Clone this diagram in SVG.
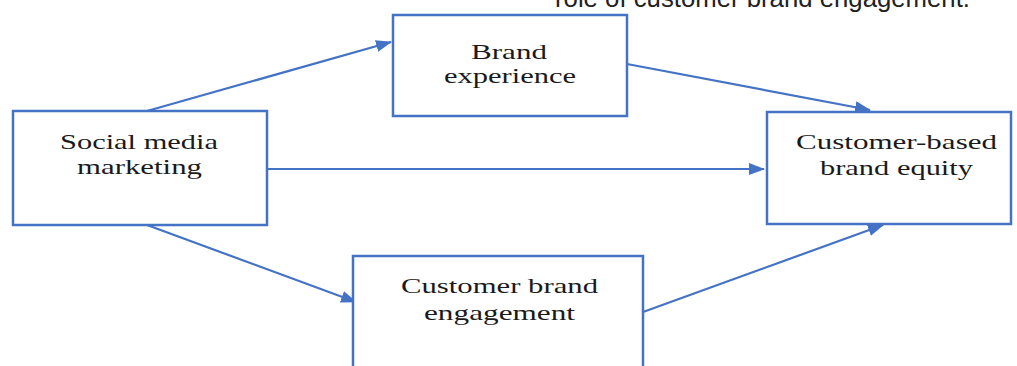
<svg xmlns="http://www.w3.org/2000/svg" width="1017" height="366" viewBox="0 0 1017 366">
  <style>
    .box { fill: #ffffff; stroke: #4472c4; stroke-width: 2.5; }
    .lbl { font-family: "Liberation Serif", "Times New Roman", serif; font-size: 21px; fill: #1a1a1a; text-anchor: start; }
    .edge { stroke: #4472c4; stroke-width: 2.2; fill: none; marker-end: url(#arr); }
    .cap { font-family: "Liberation Sans", Arial, sans-serif; font-size: 26px; fill: #222222; }
  </style>
  <defs>
    <marker id="arr" markerWidth="16" markerHeight="12" refX="15" refY="6" orient="auto" markerUnits="userSpaceOnUse">
      <path d="M0,0 L16,6 L0,12 Z" fill="#4472c4"/>
    </marker>
  </defs>
  <rect width="1017" height="366" fill="#ffffff"/>
  <text class="cap" x="555" y="7" textLength="415" lengthAdjust="spacingAndGlyphs">role of customer brand engagement.</text>

  <g id="connectors">
    <line class="edge" x1="147" y1="111" x2="391" y2="42"/>
    <line class="edge" x1="627" y1="64" x2="870" y2="110"/>
    <line class="edge" x1="267" y1="169" x2="764" y2="169"/>
    <line class="edge" x1="147" y1="225" x2="356" y2="302"/>
    <line class="edge" x1="643" y1="312" x2="883" y2="225"/>
  </g>

  <g id="social-media-marketing">
    <rect class="box" x="13" y="111" width="254" height="114"/>
    <text class="lbl" x="60" y="149" textLength="158" lengthAdjust="spacingAndGlyphs">Social media</text>
    <text class="lbl" x="77" y="174" textLength="125" lengthAdjust="spacingAndGlyphs">marketing</text>
  </g>

  <g id="brand-experience">
    <rect class="box" x="393" y="15" width="234" height="101"/>
    <text class="lbl" x="471" y="59" textLength="76" lengthAdjust="spacingAndGlyphs">Brand</text>
    <text class="lbl" x="444" y="83" textLength="132" lengthAdjust="spacingAndGlyphs">experience</text>
  </g>

  <g id="customer-based-brand-equity">
    <rect class="box" x="767" y="112" width="244" height="112"/>
    <text class="lbl" x="796" y="149" textLength="201" lengthAdjust="spacingAndGlyphs">Customer-based</text>
    <text class="lbl" x="820" y="175" textLength="153" lengthAdjust="spacingAndGlyphs">brand equity</text>
  </g>

  <g id="customer-brand-engagement">
    <rect class="box" x="353" y="256" width="290" height="120"/>
    <text class="lbl" x="401" y="293" textLength="197" lengthAdjust="spacingAndGlyphs">Customer brand</text>
    <text class="lbl" x="424" y="320" textLength="151" lengthAdjust="spacingAndGlyphs">engagement</text>
  </g>
</svg>
